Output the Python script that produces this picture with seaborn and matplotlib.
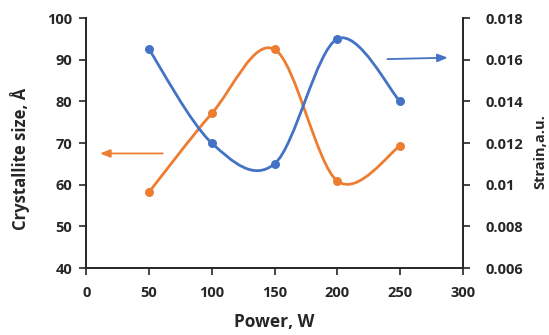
import numpy as np
import pandas as pd
import matplotlib
matplotlib.use("Agg")
import matplotlib.pyplot as plt
from matplotlib.path import Path
from matplotlib.patches import PathPatch
import seaborn as sns

power = [50, 100, 150, 200, 250]
crystallite_size = [58.2, 77.1, 92.5, 60.9, 69.3]
strain = [0.0165, 0.0120, 0.0110, 0.0170, 0.0140]

x_ticks = [0, 50, 100, 150, 200, 250, 300]
left_ticks = [40, 50, 60, 70, 80, 90, 100]
right_ticks = [0.006, 0.008, 0.010, 0.012, 0.014, 0.016, 0.018]
right_labels = ["0.006", "0.008", "0.01", "0.012", "0.014", "0.016", "0.018"]

ORANGE = "#ED7D31"
BLUE = "#4472C4"
AXC = "#262626"
TXT = "#262626"

sns.set_theme(style="white")
plt.rcParams['font.family'] = ['Open Sans', 'DejaVu Sans']

fig = plt.figure(figsize=(5.49, 3.35), dpi=100)
ax = fig.add_axes([0.157, 0.2, 0.686, 0.746])
ax2 = ax.twinx()


def smooth_path(xs, ys):
    pts = np.column_stack([xs, ys]).astype(float)
    n = len(pts)
    verts = [pts[0]]
    codes = [Path.MOVETO]
    for i in range(n - 1):
        p0 = pts[max(i - 1, 0)]
        p1 = pts[i]
        p2 = pts[i + 1]
        p3 = pts[min(i + 2, n - 1)]
        c1 = p1 + (p2 - p0) / 6.0
        c2 = p2 - (p3 - p1) / 6.0
        verts += [c1, c2, p2]
        codes += [Path.CURVE4] * 3
    return Path(verts, codes)


df = pd.DataFrame({"power": power, "size": crystallite_size, "strain": strain})

ax.add_patch(PathPatch(smooth_path(df["power"], df["size"]), facecolor="none",
                       edgecolor=ORANGE, lw=2.0, zorder=2))
sns.scatterplot(data=df, x="power", y="size", ax=ax, color=ORANGE, s=42,
                edgecolor=ORANGE, linewidth=0, zorder=3, legend=False)

ax2.add_patch(PathPatch(smooth_path(df["power"], df["strain"]), facecolor="none",
                        edgecolor=BLUE, lw=2.0, zorder=2))
sns.scatterplot(data=df, x="power", y="strain", ax=ax2, color=BLUE, s=42,
                edgecolor=BLUE, linewidth=0, zorder=3, legend=False)

ax.set_xlim(0, 300)
ax.set_ylim(40, 100)
ax2.set_ylim(0.006, 0.018)
ax.set_xticks(x_ticks)
ax.set_xticklabels([str(v) for v in x_ticks])
ax.set_yticks(left_ticks)
ax.set_yticklabels([str(v) for v in left_ticks])
ax2.set_yticks(right_ticks)
ax2.set_yticklabels(right_labels)

# arrows
ax.annotate("", xy=(11, 67.5), xytext=(61, 67.5),
            arrowprops=dict(arrowstyle="-|>,head_length=0.5,head_width=0.2",
                            color=ORANGE, lw=1.3, shrinkA=0, shrinkB=0))
ax2.annotate("", xy=(288, 0.01610), xytext=(240, 0.01603),
             arrowprops=dict(arrowstyle="-|>,head_length=0.5,head_width=0.2",
                             color=BLUE, lw=1.3, shrinkA=0, shrinkB=0))

for a in (ax, ax2):
    a.spines['top'].set_visible(False)
    for s in ('left', 'right', 'bottom'):
        a.spines[s].set_color(AXC)
        a.spines[s].set_linewidth(1.4)
    a.tick_params(colors=AXC, labelcolor=TXT, labelsize=10.5, width=1.2, length=5,
                  direction="out")
    a.grid(False)
ax.spines['right'].set_visible(False)
ax2.spines['left'].set_visible(False)
ax2.spines['bottom'].set_visible(False)
ax.tick_params(axis='x', bottom=True, pad=8)
ax.tick_params(axis='y', left=True, pad=5)
ax2.tick_params(axis='y', right=True, pad=11)

for lab in ax.get_xticklabels() + ax.get_yticklabels() + ax2.get_yticklabels():
    lab.set_fontweight("bold")

ax.set_xlabel("Power, W", fontsize=12.5, fontweight="bold", color=TXT)
ax.xaxis.set_label_coords(0.5, -0.18)
ax.set_ylabel("Crystallite size, Å", fontsize=12, fontweight="bold", color=TXT)
ax.yaxis.set_label_coords(-0.15, 0.436)
ax2.set_ylabel("Strain,a.u.", fontsize=10.5, fontweight="bold", color=TXT)
ax2.yaxis.set_label_coords(1.187, 0.464)
ax2.set_xlabel("")

fig.savefig("out.png", dpi=100, facecolor="white")
